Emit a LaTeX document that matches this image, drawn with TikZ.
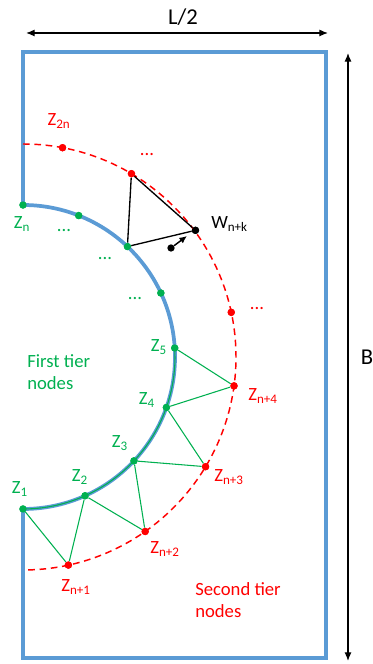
\documentclass[tikz,border=0pt]{standalone}
\usepackage{fontspec}
\setmainfont{Carlito}
\usetikzlibrary{arrows.meta,calc,positioning}
\definecolor{wallblue}{RGB}{91,155,213}
\definecolor{tiergreen}{RGB}{0,176,80}
\definecolor{tierred}{RGB}{255,0,0}
\newcommand{\zlab}[1]{Z\textsubscript{#1}}
\tikzset{
  gnode/.style={circle,fill=tiergreen,minimum size=5.5pt,inner sep=0pt},
  rnode/.style={circle,fill=tierred,minimum size=5.5pt,inner sep=0pt},
  knode/.style={circle,fill=black,minimum size=5.5pt,inner sep=0pt},
  wall/.style={wallblue,line width=2.3pt},
  hole/.style={wallblue,line width=2.8pt},
  ring/.style={tierred,line width=1.1pt,dash pattern=on 5pt off 3.5pt},
  link/.style={tiergreen,line width=0.8pt},
  tri/.style={black,line width=1pt},
  dimarrow/.style={{Latex[length=2.3mm,width=1.9mm]}-{Latex[length=2.3mm,width=1.9mm]},line width=1pt},
  glab/.style={text=tiergreen,inner sep=0pt,font=\fontsize{14}{16.5}\selectfont},
  rlab/.style={text=tierred,inner sep=0pt,font=\fontsize{14}{16.5}\selectfont},
  klab/.style={text=black,inner sep=0pt,font=\fontsize{17}{20}\selectfont}
}

\begin{document}
\begin{tikzpicture}[x=0.75pt,y=0.75pt]
  \useasboundingbox (0,0) rectangle (373,664);
  \coordinate (C) at (23,307);

  % first tier (on the hole)
  \node[gnode] (zn) at ($(C)+(90:152)$) {};
  \node[gnode] (g1) at ($(C)+(68.5:152)$) {};
  \node[gnode] (g2) at ($(C)+(46.6:152)$) {};
  \node[gnode] (g3) at ($(C)+(24.9:152)$) {};
  \node[gnode] (z5) at ($(C)+(3.4:152)$) {};
  \node[gnode] (z4) at ($(C)+(-19.4:152)$) {};
  \node[gnode] (z3) at ($(C)+(-43.1:152)$) {};
  \node[gnode] (z2) at ($(C)+(-65.9:152)$) {};
  \node[gnode] (z1) at ($(C)+(-90:152)$) {};

  % second tier
  \node[rnode] (z2n) at ($(C)+(79.3:213)$) {};
  \node[rnode] (r1) at ($(C)+(59.4:213)$) {};
  \node[knode] (w) at ($(C)+(36.3:214)$) {};
  \node[rnode] (r2) at ($(C)+(12.1:213)$) {};
  \node[rnode] (zn4) at ($(C)+(-7.8:213)$) {};
  \node[rnode] (zn3) at ($(C)+(-31:213)$) {};
  \node[rnode] (zn2) at ($(C)+(-55:213)$) {};
  \node[rnode] (zn1) at ($(C)+(-77.7:213)$) {};

  % domain
  \draw[wall] (z1.center) -- (23,6) -- (326,6) -- (326,612) -- (23,612) -- (zn.center);
  \draw[hole] (zn.center) arc[start angle=90,end angle=-90,radius=152];
  \draw[link] (z1.center) arc[start angle=-90,end angle=3.4,radius=152];
  \draw[ring] ($(C)+(90:213)$) arc[start angle=90,end angle=-89,radius=213];

  % links
  \draw[link] (z1) -- (zn1);
  \draw[link] (z2) -- (zn1);
  \draw[link] (z2) -- (zn2);
  \draw[link] (z3) -- (zn2);
  \draw[link] (z3) -- (zn3);
  \draw[link] (z4) -- (zn3);
  \draw[link] (z4) -- (zn4);
  \draw[link] (z5) -- (zn4);
  \draw[tri] (r1) -- (w) -- (g2) -- (r1);
  \node[knode] (p) at (171,416) {};
  \coordinate (pend) at (187,428);
  \draw[-{Latex[length=2mm,width=1.8mm]},line width=1.1pt] (p) -- (pend);

  % redraw dots on top
  \foreach \n in {zn,g1,g2,g3,z5,z4,z3,z2,z1} \node[gnode] at (\n) {};
  \foreach \n in {z2n,r1,r2,zn4,zn3,zn2,zn1} \node[rnode] at (\n) {};
  \node[knode] at (w) {};

  % dimensions
  \coordinate (la) at (26,631);
  \coordinate (lb) at (328,631);
  \coordinate (ba) at (348,611);
  \coordinate (bb) at (348,3);
  \draw[dimarrow] (la) -- (lb);
  \draw[dimarrow] (ba) -- (bb);
  \node[klab] (llab) at (183,647) {L/2};
  \node[klab] (blab) at (367,307) {B};

  % labels
  \node[rlab] (z2nlab) at (59,543) {\zlab{2n}};
  \node[rlab,anchor=base] (rd1) at (147,508) {...};
  \node[klab,anchor=west,font=\fontsize{14}{16.5}\selectfont] (wlab) at (211,440) {W\textsubscript{n+k}};
  \node[glab,anchor=base] (gd1) at (64,432) {...};
  \node[glab] (znlab) at (22,440) {\zlab{n}};
  \node[glab,anchor=base] (gd2) at (105,404) {...};
  \node[glab,anchor=base] (gd3) at (135,364) {...};
  \node[rlab,anchor=base] (rd2) at (257,354) {...};
  \node[glab] (z5lab) at (159,317) {\zlab{5}};
  \node[glab,anchor=west,align=left] (first) at (27,292) {First tier\\nodes};
  \node[glab] (z4lab) at (147,264) {\zlab{4}};
  \node[rlab,anchor=west] (zn4lab) at (248,268) {\zlab{n+4}};
  \node[glab] (z3lab) at (120,221) {\zlab{3}};
  \node[rlab,anchor=west] (zn3lab) at (214,187) {\zlab{n+3}};
  \node[glab] (z2lab) at (80,187) {\zlab{2}};
  \node[glab] (z1lab) at (20,175) {\zlab{1}};
  \node[rlab] (zn2lab) at (165,115) {\zlab{n+2}};
  \node[rlab] (zn1lab) at (76,77) {\zlab{n+1}};
  \node[rlab,anchor=west,align=left] (second) at (195,64) {Second tier\\nodes};
\end{tikzpicture}
\end{document}
